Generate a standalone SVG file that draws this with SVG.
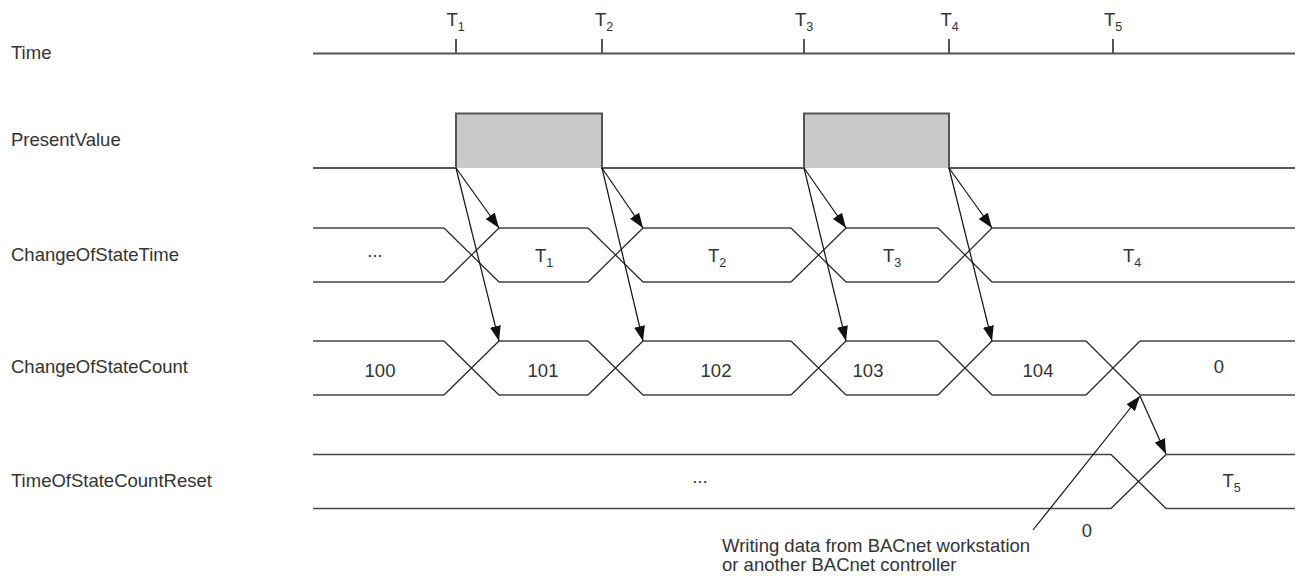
<svg xmlns="http://www.w3.org/2000/svg" width="1299" height="576" viewBox="0 0 1299 576">
<style>
text{font-family:"Liberation Sans",Arial,sans-serif;font-size:18.5px;fill:#333}
.sub{font-size:12.5px}
.ax{stroke:#555;stroke-width:2;fill:none}
.bus{stroke:#444;stroke-width:1.5;fill:none}
.x{stroke:#222;stroke-width:1.2;fill:none}
.arr{stroke:#111;stroke-width:1.2;fill:none;marker-end:url(#ah)}
.mid{text-anchor:middle}
</style>
<defs>
<marker id="ah" viewBox="0 0 15 11" refX="15" refY="5.5" markerWidth="15" markerHeight="11" markerUnits="userSpaceOnUse" orient="auto">
<path d="M0,0 L15,5.5 L0,11 Z" fill="#111"/>
</marker>
</defs>
<rect width="1299" height="576" fill="#fff"/>

<g id="labels">
<text x="11" y="59">Time</text>
<text x="11" y="146">PresentValue</text>
<text x="11" y="261">ChangeOfStateTime</text>
<text x="11" y="373">ChangeOfStateCount</text>
<text x="11" y="487">TimeOfStateCountReset</text>
</g>

<g id="time">
<line class="ax" x1="313" y1="53.5" x2="1295" y2="53.5"/>
<path class="ax" d="M456,39 V53 M602,39 V53 M804,39 V53 M949,39 V53 M1113,39 V53" stroke-width="1.5"/>
<text x="446.5" y="26">T<tspan class="sub" dy="5">1</tspan></text>
<text x="595" y="26">T<tspan class="sub" dy="5">2</tspan></text>
<text x="795" y="26">T<tspan class="sub" dy="5">3</tspan></text>
<text x="940.5" y="26">T<tspan class="sub" dy="5">4</tspan></text>
<text x="1104" y="26">T<tspan class="sub" dy="5">5</tspan></text>
</g>

<g id="presentvalue">
<rect x="456" y="113.5" width="146" height="54.5" fill="#c8c9ca"/>
<rect x="804" y="113.5" width="145" height="54.5" fill="#c8c9ca"/>
<path class="ax" d="M313,168 H456 V113.5 H602 V168 H804 V113.5 H949 V168 H1295" stroke="#333"/>
</g>

<g id="changeofstatetime">
<path class="bus" d="M313,228 H444 M499,228 H588 M643,228 H791 M846,228 H938 M992,228 H1295 M313,282 H444 M499,282 H588 M643,282 H791 M846,282 H938 M992,282 H1295"/>
<path class="x" d="M444,228 L499,282 M444,282 L499,228 M588,228 L643,282 M588,282 L643,228 M791,228 L846,282 M791,282 L846,228 M938,228 L992,282 M938,282 L992,228"/>
<text class="mid" x="375" y="257">...</text>
<text x="535" y="262">T<tspan class="sub" dy="5">1</tspan></text>
<text x="708" y="262">T<tspan class="sub" dy="5">2</tspan></text>
<text x="883" y="262">T<tspan class="sub" dy="5">3</tspan></text>
<text x="1123" y="262">T<tspan class="sub" dy="5">4</tspan></text>
</g>

<g id="changeofstatecount">
<path class="bus" d="M313,341 H444 M499,341 H588 M643,341 H791 M846,341 H938 M992,341 H1086 M1140,341 H1295 M313,395 H444 M499,395 H588 M643,395 H791 M846,395 H938 M992,395 H1086 M1140,395 H1295"/>
<path class="x" d="M444,341 L499,395 M444,395 L499,341 M588,341 L643,395 M588,395 L643,341 M791,341 L846,395 M791,395 L846,341 M938,341 L992,395 M938,395 L992,341 M1086,341 L1140,395 M1086,395 L1140,341"/>
<text class="mid" x="380" y="377">100</text>
<text class="mid" x="543" y="377">101</text>
<text class="mid" x="716" y="377">102</text>
<text class="mid" x="868" y="377">103</text>
<text class="mid" x="1038" y="377">104</text>
<text class="mid" x="1219" y="373">0</text>
</g>

<g id="timeofstatecountreset">
<path class="bus" d="M313,454.5 H1111 M1166,454.5 H1295 M313,508.5 H1111 M1166,508.5 H1295"/>
<path class="x" d="M1111,454.5 L1166,508.5 M1111,508.5 L1166,454.5"/>
<text class="mid" x="700" y="483">...</text>
<text x="1222.5" y="487">T<tspan class="sub" dy="5">5</tspan></text>
<text class="mid" x="1087" y="537">0</text>
</g>

<g id="note">
<text x="722" y="552">Writing data from BACnet workstation</text>
<text x="722" y="571">or another BACnet controller</text>
</g>

<g id="connectors">
<line class="arr" x1="456" y1="168" x2="499" y2="228"/>
<line class="arr" x1="456" y1="168" x2="499" y2="341"/>
<line class="arr" x1="602" y1="168" x2="643" y2="228"/>
<line class="arr" x1="602" y1="168" x2="643" y2="341"/>
<line class="arr" x1="804" y1="168" x2="846" y2="228"/>
<line class="arr" x1="804" y1="168" x2="846" y2="341"/>
<line class="arr" x1="949" y1="168" x2="992" y2="228"/>
<line class="arr" x1="949" y1="168" x2="992" y2="341"/>
<line class="arr" x1="1033" y1="530" x2="1140" y2="396"/>
<line class="arr" x1="1140" y1="396" x2="1166" y2="454"/>
</g>
</svg>
